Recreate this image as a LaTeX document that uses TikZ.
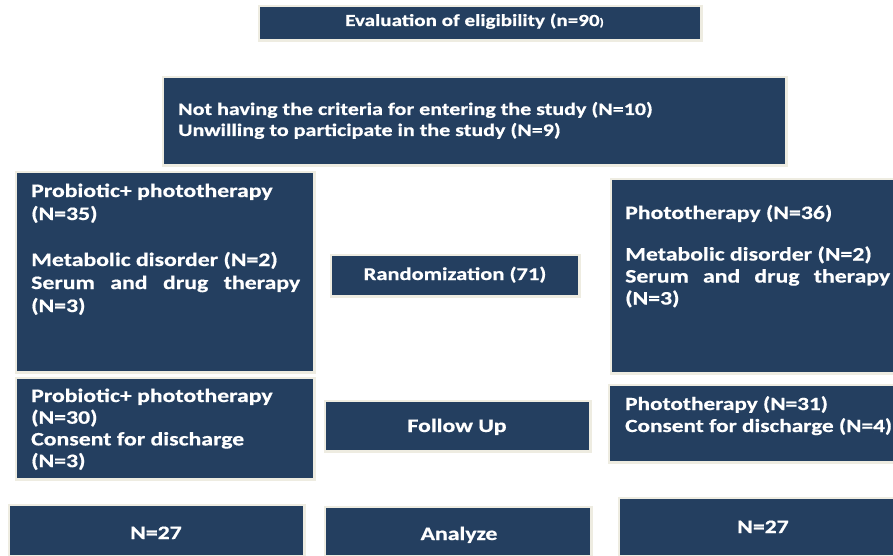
\documentclass[tikz,border=0pt]{standalone}
\usepackage{fontspec}
\setmainfont{Carlito}[FakeStretch=1.25, BoldFeatures={FakeBold=0.6}]
\definecolor{navy}{HTML}{243F60}
\definecolor{bord}{HTML}{EEECE1}
\newcommand{\mlines}[4]{\parbox[t]{#1}{\raggedright\fontsize{#2}{#3}\selectfont #4}}
\newcommand{\jline}[2]{\leavevmode\hbox to #1{#2}}
\begin{document}
\begin{tikzpicture}[x=1pt,y=-1pt,
  box/.style={fill=navy, preaction={draw=bord, line width=5pt}, inner sep=0pt, anchor=north west},
  txt/.style={text=white, inner sep=0pt, font=\bfseries\fontsize{19}{22}\selectfont}]
\useasboundingbox (0,0) rectangle (893,556);
\clip (0,0) rectangle (893,556);
\fill[white] (0,0) rectangle (893,556);
% boxes
\node[box, minimum width=440pt, minimum height=32pt] (eval) at (260,7) {};
\node[box, minimum width=621pt, minimum height=86pt] (excl) at (164,78) {};
\node[box, minimum width=296pt, minimum height=198pt] (l1) at (17,173) {};
\node[box, minimum width=246pt, minimum height=39pt] (rand) at (332,256) {};
\node[box, minimum width=298pt, minimum height=192pt] (r1) at (612,180) {};
\node[box, minimum width=296pt, minimum height=99pt] (l2) at (17,379) {};
\node[box, minimum width=263pt, minimum height=48pt] (fu) at (326,402) {};
\node[box, minimum width=300pt, minimum height=75pt] (r2) at (610,386) {};
\node[box, minimum width=293pt, minimum height=49pt] (b1) at (10,506) {};
\node[box, minimum width=264pt, minimum height=47pt] (an) at (326,508) {};
\node[box, minimum width=290pt, minimum height=56pt] (b3) at (620,499) {};
% texts
\node[txt, anchor=base west, font=\bfseries\fontsize{16.9}{18}\selectfont] (evalt) at (345,26)
  {Evaluation of eligibility (n=90{\fontsize{11}{11}\selectfont)}};
\node[txt, anchor=base west] (exclt) at (178,115)
  {\mlines{600pt}{17.6}{21}{Not having the criteria for entering the study (N=10)\\
   Unwilling to participate in the study (N=9)}};
\node[txt, anchor=base west] (l1t) at (31,197)
  {\mlines{290pt}{19}{23}{Probiotic+ phototherapy\\(N=35)\\[23pt]
   Metabolic disorder (N=2)\\
   \jline{269pt}{Serum\hfill and\hfill drug\hfill therapy}\\(N=3)}};
\node[txt, anchor=base, font=\bfseries\fontsize{18}{20}\selectfont] (randt) at (455,280) {Randomization (71)};
\node[txt, anchor=base west] (r1t) at (625,219)
  {\mlines{290pt}{19}{22}{Phototherapy (N=36)\\[19.5pt]
   Metabolic disorder (N=2)\\
   \jline{265pt}{Serum\hfill and\hfill drug\hfill therapy}\\(N=3)}};
\node[txt, anchor=base west] (l2t) at (31,402)
  {\mlines{290pt}{19}{21.7}{Probiotic+ phototherapy\\(N=30)\\Consent for discharge\\(N=3)}};
\node[txt, anchor=base] (fut) at (457,432) {Follow Up};
\node[txt, anchor=base west] (r2t) at (625,410)
  {\mlines{290pt}{18.6}{22}{Phototherapy (N=31)\\Consent for discharge (N=4)}};
\node[txt, anchor=base] (b1t) at (156,539) {N=27};
\node[txt, anchor=base] (ant) at (459,540) {Analyze};
\node[txt, anchor=base] (b3t) at (763,533) {N=27};
\end{tikzpicture}
\end{document}
